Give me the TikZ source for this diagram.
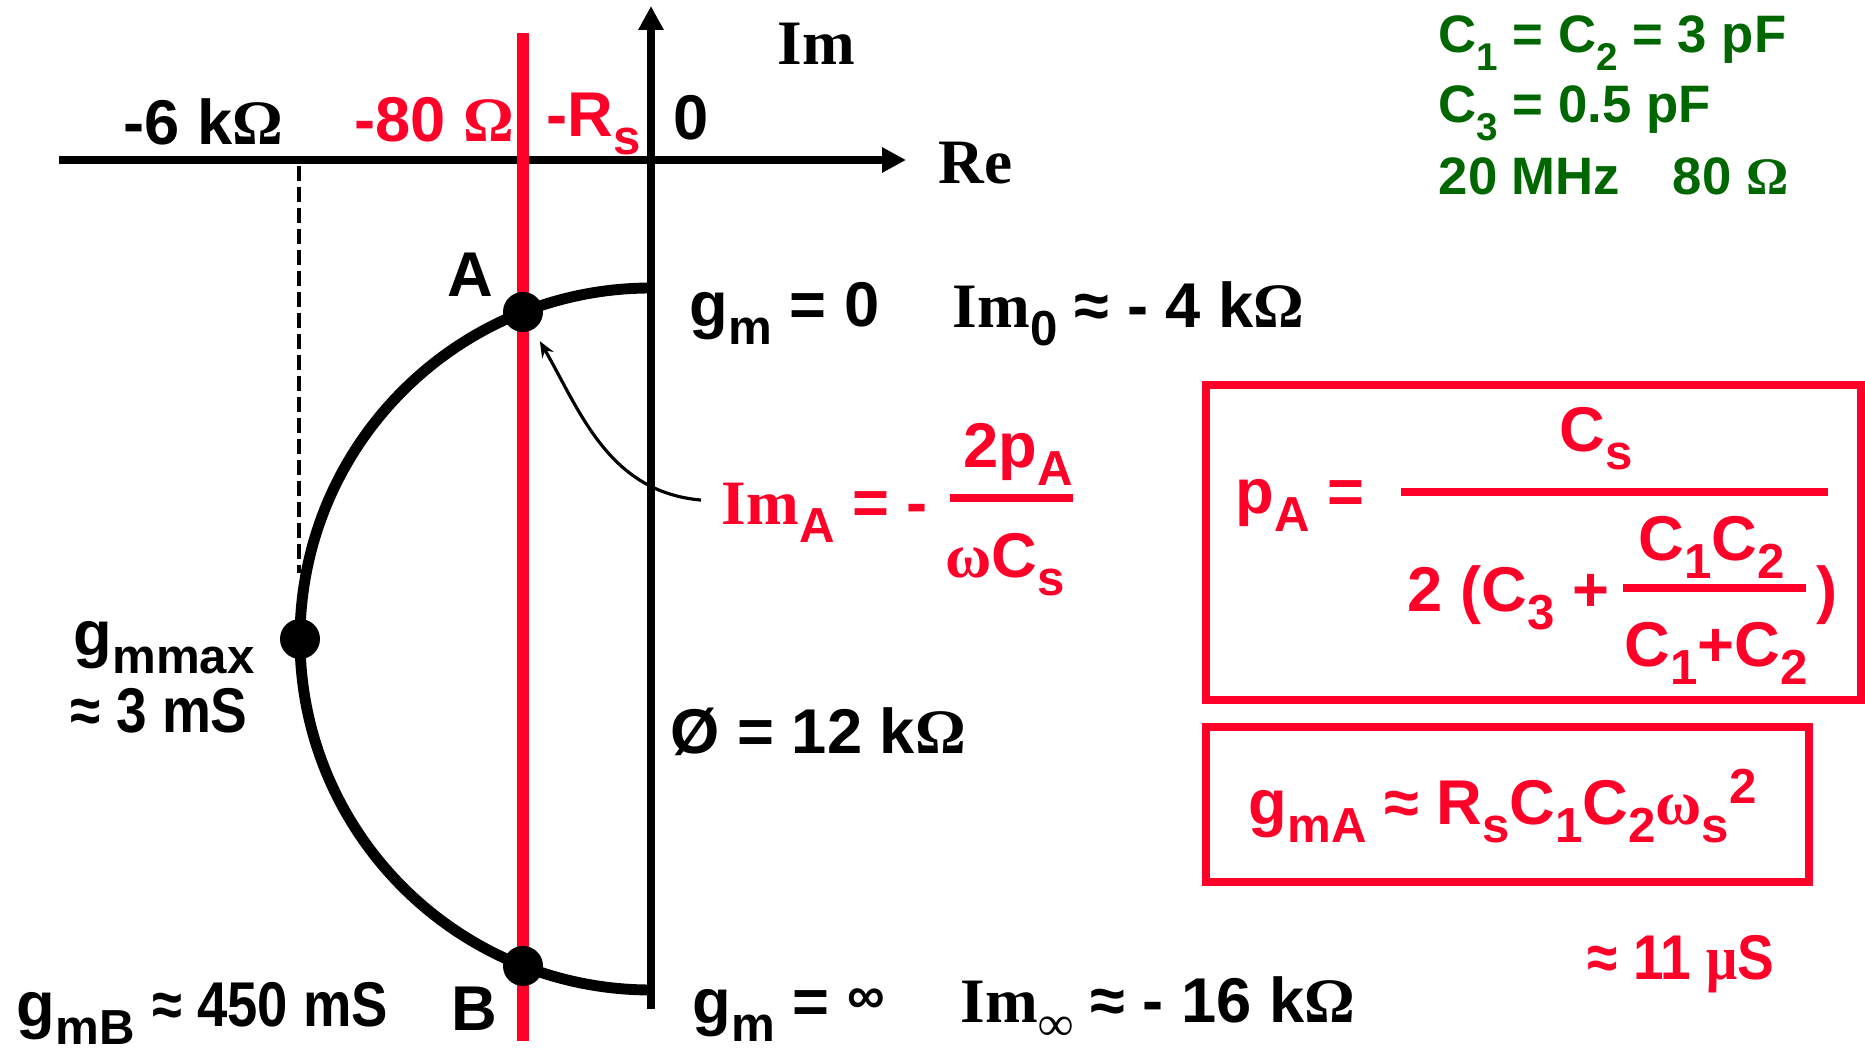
\documentclass[tikz,border=0pt]{standalone}
\usepackage{graphicx}
\usepackage{fontspec}
\setmainfont{Liberation Sans}
\newfontfamily\tms{Liberation Serif}
\usetikzlibrary{arrows.meta}
\definecolor{PlotRed}{RGB}{255, 0, 40}
\definecolor{NoteGreen}{RGB}{0, 102, 0}
\newcommand{\sbs}[2][14]{\raisebox{-5pt}{\fontsize{#1}{#1}\selectfont #2}}
\newcommand{\sps}[1]{\raisebox{6pt}{\fontsize{14}{14}\selectfont #1}}
\newcommand{\Om}{{\tms Ω}}
\newcommand{\narrow}[1]{\scalebox{0.87}[1]{#1}}

\begin{document}
\begin{tikzpicture}[
    x=0.1mm, y=0.1mm,
    font=\fontsize{18}{21}\selectfont\bfseries,
    lbl/.style={inner sep=0pt, anchor=base west},
    redlbl/.style={lbl, text=PlotRed},
    note/.style={lbl, text=NoteGreen, font=\fontsize{15}{18}\selectfont\bfseries},
    axis/.style={line width=2.3pt, -{Triangle[length=2.4mm,width=2.4mm]}},
    redline/.style={line width=3.4pt, draw=PlotRed},
    locus/.style={line width=3.1pt},
    dot/.style={circle, fill=black, inner sep=0pt, minimum size=4mm},
    guide/.style={line width=1.1pt, dash pattern=on 1.5mm off 0.6mm},
    fracbar/.style={line width=2pt, draw=PlotRed},
    formbox/.style={line width=2pt, draw=PlotRed},
    pointer/.style={line width=0.9pt, -{Stealth[length=1.6mm,width=1.3mm]}}
]
\useasboundingbox (0,0) rectangle (1865,-1051);

% Axes and locus
\coordinate (reL) at (59,-160);
\coordinate (reR) at (906,-160);
\coordinate (imB) at (651,-1009);
\coordinate (imT) at (651,-6);
\coordinate (rsT) at (523,-33);
\coordinate (rsB) at (523,-1041);
\coordinate (dashtop) at (299,-166);
\coordinate (dashend) at (299,-573);

\draw[axis] (reL) -- (reR);
\draw[axis] (imB) -- (imT);
\draw[guide] (dashtop) -- (dashend);
\draw[redline] (rsT) -- (rsB);
\draw[locus] (651,-288) arc[start angle=90, end angle=270, radius=351];

\node[dot] (dotA) at (523,-312) {};
\node[dot] (dotM) at (300,-639) {};
\node[dot] (dotB) at (523,-966) {};

% Axis labels
\node[lbl] (sixk) at (123,-145) {-6 k\Om};
\node[redlbl] (eighty) at (354,-142) {-80 \Om};
\node[redlbl] (negRs) at (546,-137) {-R\sbs{s}};
\node[lbl] (zero) at (673,-140) {0};
\node[lbl, font=\tms\fontsize{18}{21}\selectfont\bfseries] (imlbl) at (777,-65) {Im};
\node[lbl, font=\tms\fontsize{18}{21}\selectfont\bfseries] (relbl) at (938,-184) {Re};

% Point labels
\node[lbl] (lblA) at (447,-297) {A};
\node[lbl] (lblB) at (451,-1031) {B};
\node[lbl] (gmzero) at (689,-327) {g\sbs{m} = 0};
\node[lbl] (imzero) at (952,-328) {{\tms Im}\sbs{0} ≈ - 4 k\Om};
\node[lbl] (gmmax) at (73,-656) {g\sbs{mmax}};
\node[lbl] (gmmaxval) at (70,-733) {\narrow{≈ 3 mS}};
\node[lbl] (diam) at (670,-754) {Ø = 12 k\Om};
\node[lbl] (gminf) at (692,-1024) {g\sbs{m} = \raisebox{3pt}{\fontsize{15}{15}\selectfont ∞}};
\node[lbl] (iminf) at (960,-1023) {{\tms Im}\sbs{\tms ∞} ≈ - 16 k\Om};
\node[lbl] (gmB) at (16,-1027) {g\sbs{mB} \scalebox{0.86}[1]{≈ 450 mS}};

% Im_A
\node[redlbl] (imA) at (721,-525) {{\tms Im}\sbs{A} = -};
\node[redlbl, anchor=base] (imAnum) at (1018,-468) {2p\sbs{A}};
\node[redlbl, anchor=base] (imAden) at (1005,-578) {{\tms ω}C\sbs{s}};
\draw[fracbar] (950,-498) -- (1073,-498);
\draw[pointer, shorten >=1.3mm] ([xshift=-2mm,yshift=1.3mm]imA.west) to[out=175, in=-60] (dotA);

% Component values
\node[note] (cvals) at (1438,-53) {C\sbs[11]{1} = C\sbs[11]{2} = 3 pF};
\node[note] (cthree) at (1438,-123) {C\sbs[11]{3} = 0.5 pF};
\node[note] (fsrc) at (1438,-195) {20 MHz\quad 80 \Om};

% p_A box
\draw[formbox] (1206,-385) rectangle (1861,-700);
\node[redlbl] (pA) at (1235,-514) {p\sbs{A} =};
\node[redlbl] (pAnum) at (1559,-452) {C\sbs{s}};
\draw[fracbar] (1401,-492) -- (1828,-492);
\node[redlbl] (pAden) at (1407,-612) {2 (C\sbs{3} +};
\node[redlbl] (ccnum) at (1638,-561) {C\sbs{1}C\sbs{2}};
\draw[fracbar] (1623,-588) -- (1806,-588);
\node[redlbl] (ccden) at (1624,-667) {C\sbs{1}+C\sbs{2}};
\node[redlbl] (pAclose) at (1816,-612) {)};

% g_mA box
\draw[formbox] (1206,-727) rectangle (1809,-882);
\node[redlbl] (gmA) at (1248,-825) {g\sbs{mA} ≈ R\sbs{s}C\sbs{1}C\sbs{2}{\tms ω}\sbs{s}\sps{2}};
\node[redlbl] (gmAval) at (1587,-980) {\narrow{≈ 11 {\tms μ}S}};

\end{tikzpicture}
\end{document}
